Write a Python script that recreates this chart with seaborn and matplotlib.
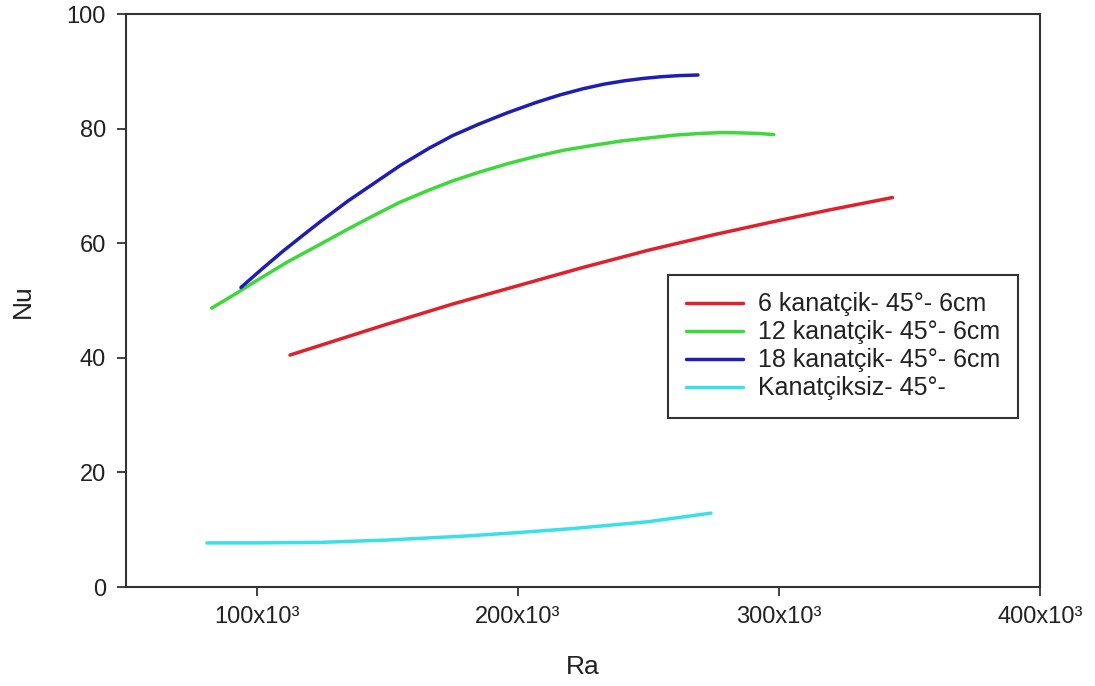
import matplotlib
matplotlib.use('Agg')
import matplotlib.pyplot as plt
import seaborn as sns
import pandas as pd

# Data (Ra in units of 10^3)
ra_6 = [112.8, 130, 150, 175, 200, 225, 250, 275, 300, 320, 343.5]
nu_6 = [40.5, 43.0, 45.9, 49.4, 52.6, 55.8, 58.8, 61.5, 64.0, 65.9, 68.0]

ra_12 = [82.8, 92, 100, 112, 125, 135, 145, 155, 166, 175, 185, 196, 207, 218, 230, 240, 250, 260, 270, 278, 285, 292, 298]
nu_12 = [48.7, 51.2, 53.5, 56.8, 60.0, 62.5, 64.9, 67.2, 69.3, 70.9, 72.4, 73.9, 75.2, 76.3, 77.2, 77.9, 78.4, 78.9, 79.2, 79.35, 79.3, 79.2, 79.0]

ra_18 = [94.0, 102, 110, 118, 125, 135, 145, 155, 166, 175, 185, 196, 207, 216, 225, 233, 241, 248, 255, 262, 269]
nu_18 = [52.3, 55.5, 58.6, 61.5, 64.0, 67.4, 70.5, 73.6, 76.6, 78.8, 80.8, 82.8, 84.6, 85.9, 87.0, 87.8, 88.4, 88.8, 89.1, 89.3, 89.4]

ra_0 = [81, 100, 125, 150, 180, 200, 221, 250, 274]
nu_0 = [7.7, 7.7, 7.8, 8.2, 8.9, 9.5, 10.2, 11.4, 12.9]

labels = ["6 kanatçik- 45°- 6cm", "12 kanatçik- 45°- 6cm",
          "18 kanatçik- 45°- 6cm", "Kanatçiksiz- 45°-"]
colors = ["#e0202a", "#3cd83c", "#1e1eb4", "#3ae0e8"]

x_ticks = [100, 200, 300, 400]
x_ticklabels = ["100x10³", "200x10³", "300x10³", "400x10³"]
y_ticks = [0, 20, 40, 60, 80, 100]

frames = []
for lab, ra, nu in zip(labels, [ra_6, ra_12, ra_18, ra_0], [nu_6, nu_12, nu_18, nu_0]):
    frames.append(pd.DataFrame({"Ra": [r * 1000 for r in ra], "Nu": nu, "series": lab}))
df = pd.concat(frames, ignore_index=True)

sns.set_style("ticks")
plt.rcParams['font.family'] = ['Liberation Sans', 'DejaVu Sans']

fig = plt.figure(figsize=(10.95, 6.86), dpi=100)
ax = fig.add_axes([126 / 1095, 1 - 587 / 686, (1040 - 126) / 1095, (587 - 14.3) / 686])

sns.lineplot(data=df, x="Ra", y="Nu", hue="series", hue_order=labels,
             palette=dict(zip(labels, colors)), sort=False, estimator=None,
             linewidth=2.5, ax=ax, legend=False)

ax.set_xlim(50000, 400000)
ax.set_ylim(0, 100)
ax.set_xticks([t * 1000 for t in x_ticks])
ax.set_xticklabels(x_ticklabels)
ax.set_yticks(y_ticks)
for s in ax.spines.values():
    s.set_visible(True)
    s.set_color("#333333")
    s.set_linewidth(1.5)
ax.tick_params(axis="both", direction="out", length=6.5, width=1.3, color="#333333",
               labelsize=17, labelcolor="#222222")
ax.tick_params(axis="y", pad=8)
ax.tick_params(axis="x", pad=7)
ax.set_xlabel("Ra", fontsize=19, color="#222222")
ax.set_ylabel("Nu", fontsize=19, color="#222222")
ax.xaxis.set_label_coords(0.5, -0.118)
ax.yaxis.set_label_coords(-0.1, 0.5)

handles = [plt.Line2D([], [], color=c, linewidth=2.5) for c in colors]
leg = ax.legend(handles, labels, loc="upper left",
                bbox_to_anchor=(668 / 1095, 1 - 275 / 686), bbox_transform=fig.transFigure,
                frameon=True, fancybox=False, edgecolor="#333333", fontsize=18,
                handlelength=2.3, handletextpad=0.6, borderpad=0.7, labelspacing=0.16,
                borderaxespad=0, framealpha=1)
leg.get_frame().set_linewidth(1.5)
for t in leg.get_texts():
    t.set_color("#222222")

fig.savefig("out.png", dpi=100)
